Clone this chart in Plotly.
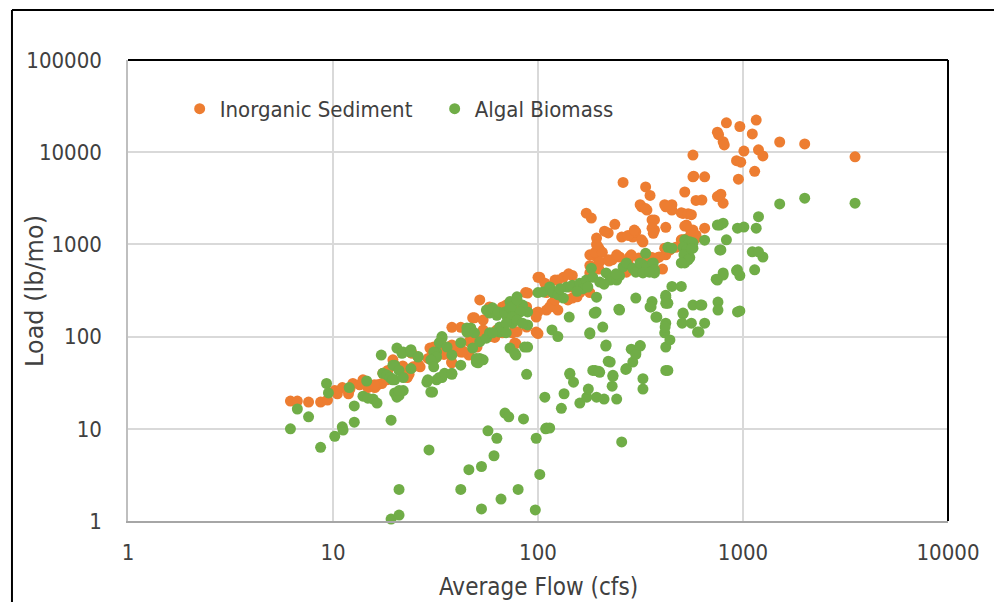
import plotly.graph_objects as go

# Inorganic sediment: average monthly flow (cfs) and load (lb/mo)
sed_flow = [
    6.2, 6.7, 7.6, 8.7, 9.4, 10.2, 10.5, 11.1, 11.9, 12.1, 12.5, 14, 14.8, 16, 16.5, 17.3, 17.5, 18.3, 18.5, 19.6,
    20.5, 22, 23, 23.8, 24.3, 24.6, 26.6, 29.7, 30.6, 32, 34, 37, 38, 40, 43, 46, 48, 49, 54, 58,
    63, 67, 75, 79, 82, 88, 98, 100, 60, 65, 70, 52, 89, 38, 42, 48, 54, 58, 67, 73,
    63, 31, 34, 38, 42, 47, 51, 54, 78, 98, 29.1, 32.4, 34.8, 37.9, 43, 46.2, 50.4, 61.5, 77, 21.9,
    23.5, 26.1, 15.9, 13.5,
    102, 108, 121, 133, 147, 110, 117, 120, 125, 140, 147, 155, 160, 165, 87, 85, 88, 100, 98,
    100, 110, 114, 121, 125, 143, 155, 160, 179, 190, 193, 197, 193, 200, 172, 182, 220, 230, 250, 256,
    275, 290, 300, 325, 335, 352, 260, 320, 340, 360, 370, 420, 415, 450, 450, 520, 510, 530, 570, 630,
    650, 770, 800, 415, 420, 510, 570, 340, 380, 232, 179, 190, 206, 220, 179, 200, 280, 310, 270, 300,
    141, 179, 198, 211, 222, 242, 237, 275, 285, 295, 302, 390, 405, 193, 352, 360,
    830, 750, 760, 800, 810, 965, 1160, 1110, 1010, 1190, 1250, 930, 975, 950, 1140, 650, 570, 570, 1510, 2000,
    3520, 780, 500, 540, 560, 420, 315, 335, 370, 360, 365, 520, 590, 320, 440, 470, 500, 540, 330, 590,
    575, 750, 555, 590,
]
sed_load = [
    20, 20, 19.5, 19.5, 20.5, 26, 24, 28, 24, 27, 31, 34, 28, 28, 30, 31, 40, 34, 43, 56,
    47, 43, 36, 68, 66, 47, 47, 75, 66, 60, 75, 66, 52, 72, 68, 63, 110, 160, 96, 100,
    110, 110, 110, 113, 194, 210, 180, 108, 194, 185, 220, 250, 297, 126, 126, 160, 151, 210, 210, 220,
    118, 77, 72, 81, 68, 86, 96, 118, 84, 112, 58, 74, 64, 53, 70, 89, 77, 98, 85, 48,
    39, 50, 30, 30,
    440, 380, 410, 440, 460, 194, 230, 210, 194, 250, 262, 300, 345, 380, 300, 194, 127, 185, 163,
    440, 300, 210, 250, 410, 345, 270, 300, 490, 570, 730, 930, 1170, 870, 2180, 1930, 1330, 680, 730, 1200,
    630, 1200, 1370, 1060, 4200, 3400, 4700, 2560, 2360, 1840, 1430, 1530, 2700, 2700, 2360, 3700, 2170, 1620, 1430, 3030,
    1500, 3400, 2800, 910, 770, 1120, 1120, 760, 710, 440, 770, 820, 820, 680, 590, 650, 730, 710, 500, 530,
    480, 300, 540, 1390, 660, 770, 1650, 1250, 770, 1430, 540, 730, 540, 1000, 680, 720,
    20800, 16500, 15500, 13000, 12000, 19000, 22300, 15800, 10300, 10600, 9100, 8100, 7800, 5100, 6200, 5400, 5400, 9300, 12900, 12300,
    8900, 3500, 2200, 2150, 2100, 2560, 2700, 2450, 1840, 1500, 1320, 1580, 1260, 1120, 870, 930, 1120, 1170, 730, 3000,
    5500, 3300, 1430, 1170,
]

# Algal biomass: average monthly flow (cfs) and load (lb/mo)
alg_flow = [
    6.2, 6.7, 7.6, 8.7, 9.3, 9.5, 10.2, 11.1, 11.2, 12, 12.7, 12.7, 14, 14.8, 15.7, 16.4, 14.6, 17.2, 19.2, 19.2,
    21, 21, 17.5, 18.3, 19, 20, 20.5, 20, 20.5, 21, 22, 20, 21.7, 23.8, 24, 26, 29.4, 28.7, 30.6, 32,
    34, 38, 31, 32, 34, 42, 50, 52, 45, 57, 63, 61, 53, 46, 42, 53, 66, 80, 69, 72,
    85, 73, 78, 86, 88, 98, 102, 97, 108, 109,
    79, 89, 77, 70, 75, 89, 65, 60, 58, 63, 84, 73, 47, 45, 49, 42, 48, 52, 56, 58,
    54, 51, 50, 34, 33, 36, 31, 32, 30, 31, 29, 33, 35, 38, 38, 30, 22, 24, 26, 19.6,
    21, 22, 19.5, 21, 89,
    56, 60, 64, 69, 73, 75, 79, 82, 75, 70, 65, 70, 60, 79, 84, 100, 106, 114, 118, 125,
    133, 138, 147, 160, 172, 182, 185, 200, 215, 225, 232, 242, 250, 260, 270, 290, 300, 325, 335, 340,
    352, 360, 370, 193, 190, 179, 207, 142, 117, 125, 77, 143, 215, 225, 232, 190, 200, 270, 290, 315,
    300, 300, 250, 360, 356, 380, 420, 430, 420, 415, 420, 440, 430, 450, 500, 520, 550, 510, 570, 530,
    520, 550, 650, 770, 800, 830, 770, 510, 570, 620, 650, 600, 755, 755, 750, 800, 940, 940, 940,
    570, 530, 515, 540, 500, 560, 430, 450, 315, 340, 365, 370, 325, 350,
    110, 114, 130, 134, 143, 149, 160, 173, 176, 193, 210, 185, 198, 230, 232, 242, 256, 214, 220, 268,
    285, 315, 300, 325, 325, 420, 417, 179, 188, 192, 248, 376, 352, 510, 505, 560, 610, 630,
    128, 165, 210, 240, 155, 175,
    1510, 2000, 3520, 1190, 1160, 1010, 750, 780, 1110, 1250, 1140, 930, 965, 800, 740, 965, 1190, 420, 420,
]
alg_load = [
    10, 16.4, 13.5, 6.3, 31, 24.5, 8.3, 10.5, 9.7, 28, 17.7, 11.8, 22.6, 21.5, 21, 19, 33, 63, 12.4, 1.05,
    2.2, 1.16, 40, 38.5, 36, 34, 75, 24.5, 22, 23, 26, 49, 66, 68, 45, 61, 5.9, 32, 25, 34,
    36, 39, 56, 68, 100, 49, 53, 58, 124, 9.5, 7.9, 5.1, 3.9, 3.6, 2.2, 1.35, 1.73, 2.2, 14.8, 13.5,
    12.8, 75, 63, 77, 39, 7.9, 3.2, 1.32, 22, 10,
    270, 185, 180, 170, 140, 134, 127, 194, 180, 170, 220, 240, 124, 112, 110, 86, 75, 88, 96, 110,
    56, 52, 58, 96, 86, 77, 68, 60, 56, 47, 34, 36, 40, 40, 63, 25, 68, 72, 60, 49,
    43, 36, 34, 26, 77,
    194, 205, 185, 185, 205, 210, 250, 185, 163, 140, 112, 110, 110, 151, 140, 300, 305, 345, 300, 285,
    262, 345, 360, 380, 410, 550, 440, 390, 490, 410, 440, 410, 460, 570, 630, 550, 500, 600, 800, 530,
    570, 620, 490, 268, 180, 110, 127, 163, 118, 100, 66, 40, 81, 53, 38, 43, 41, 45, 53, 80,
    67, 262, 194, 240, 210, 163, 268, 230, 140, 110, 77, 92, 43, 350, 350, 1120, 1070, 930, 910, 830,
    630, 720, 1110, 1620, 1700, 1120, 870, 180, 220, 220, 140, 112, 237, 194, 410, 465, 1500, 530, 185,
    1040, 870, 770, 680, 630, 900, 930, 910, 630, 570, 630, 530, 490, 500,
    10.2, 10.2, 16.7, 24, 39, 32, 19, 22, 27, 22, 21, 43, 42, 29, 37, 21, 7.2, 79, 54, 44,
    73, 79, 64, 35, 27, 43, 127, 107, 180, 185, 198, 163, 210, 176, 140, 140, 112, 220,
    330, 330, 370, 480, 310, 345,
    2750, 3170, 2800, 2000, 1500, 1540, 1620, 870, 830, 730, 530, 520, 460, 490, 420, 190, 830, 280, 230,
]

x_ticks = [1, 10, 100, 1000, 10000]
y_ticks = [1, 10, 100, 1000, 10000, 100000]

SED_COLOR = "#ED7D31"
ALG_COLOR = "#70AD47"
TEXT_COLOR = "#404040"
NARROW = "Liberation Sans Narrow, DejaVu Sans Condensed, Roboto, sans-serif"

fig = go.Figure()
fig.add_trace(go.Scatter(
    x=sed_flow, y=sed_load, mode="markers", name="Inorganic Sediment",
    marker=dict(color=SED_COLOR, size=11, line=dict(width=0)), cliponaxis=False,
))
fig.add_trace(go.Scatter(
    x=alg_flow, y=alg_load, mode="markers", name="Algal Biomass",
    marker=dict(color=ALG_COLOR, size=11, line=dict(width=0)), cliponaxis=False,
))

fig.update_xaxes(
    type="log", range=[0, 4],
    tickvals=x_ticks, ticktext=[str(v) for v in x_ticks],
    showgrid=True, gridcolor="#D9D9D9", gridwidth=1.5,
    showline=True, linecolor="#A6A6A6", linewidth=2,
    ticks="", ticklabelstandoff=11, zeroline=False,
    tickfont=dict(family=NARROW, size=22, color=TEXT_COLOR),
)
fig.update_yaxes(
    type="log", range=[0, 5],
    tickvals=y_ticks, ticktext=[str(v) for v in y_ticks],
    showgrid=True, gridcolor="#D9D9D9", gridwidth=1.5,
    showline=True, linecolor="#BFBFBF", linewidth=1.5,
    ticks="", ticklabelstandoff=20, zeroline=False,
    tickfont=dict(family=NARROW, size=22, color=TEXT_COLOR),
)

# plot-area frame (top and right) and the outer chart frame
fig.add_shape(type="line", xref="paper", yref="paper", x0=0, x1=1, y0=1, y1=1,
              line=dict(color="black", width=2))
fig.add_shape(type="line", xref="paper", yref="paper", x0=1, x1=1, y0=0, y1=1,
              line=dict(color="black", width=2))
fig.add_shape(type="line", xref="paper", yref="paper", x0=-0.1415, x1=1.06, y0=1.1085, y1=1.1085,
              line=dict(color="black", width=2))
fig.add_shape(type="line", xref="paper", yref="paper", x0=-0.1415, x1=-0.1415, y0=-0.18, y1=1.1085,
              line=dict(color="black", width=2))

fig.add_annotation(text="Load (lb/mo)", xref="paper", yref="paper", x=-0.1134, y=0.499,
                   xanchor="center", yanchor="middle", textangle=-90, showarrow=False,
                   font=dict(family="DejaVu Sans", size=24, color=TEXT_COLOR))
fig.add_annotation(text="Average Flow (cfs)", xref="paper", yref="paper", x=0.5, y=-0.143,
                   xanchor="center", yanchor="middle", showarrow=False,
                   font=dict(family=NARROW, size=24, color=TEXT_COLOR))

fig.update_layout(
    width=994, height=602,
    margin=dict(l=128, r=46, t=60, b=81),
    paper_bgcolor="white", plot_bgcolor="white",
    showlegend=True,
    legend=dict(orientation="h", x=0.063, y=0.894, xanchor="left", yanchor="middle",
                bgcolor="rgba(0,0,0,0)", font=dict(family=NARROW, size=22, color=TEXT_COLOR),
                entrywidth=210, entrywidthmode="pixels"),
)

fig.write_html("out.html")
